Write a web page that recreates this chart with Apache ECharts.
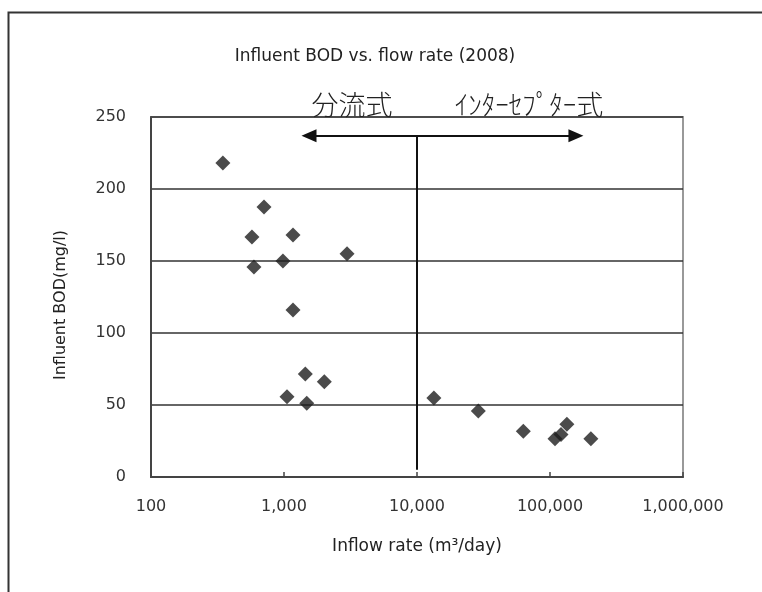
<!DOCTYPE html>
<html>
<head>
<meta charset="utf-8">
<script src="https://cdn.jsdelivr.net/npm/echarts@6/dist/echarts.min.js"></script>
<style>
html,body{margin:0;padding:0;background:#fff;}
#chart{width:762px;height:592px;}
</style>
</head>
<body>
<div id="chart"></div>
<script>
// Data
const inflowRate = [347, 707, 574, 1169, 982, 594, 2978, 1169, 1446, 2010, 1053, 1482,
                    13400, 28900, 63000, 109000, 121000, 134000, 203000];
const influentBOD = [218, 187.5, 166.7, 168, 150, 145.8, 155, 116, 71.5, 66.2, 55.8, 51.2,
                     54.9, 45.8, 31.7, 26.6, 29.6, 36.6, 26.6];
const xTickLabels = ['100', '1,000', '10,000', '100,000', '1,000,000'];
const yTicks = [0, 50, 100, 150, 200, 250];
const dividerX = 10000;
const dividerYRange = [5, 237];
const arrowXRange = [1541, 156700];
const arrowY = 237;
const titleText = 'Influent BOD vs. flow rate (2008)';
const xName = 'Inflow rate (m\u00B3/day)';
const yName = 'Influent BOD(mg/l)';
const leftLabel = '分流式';
const rightLabel = 'ｲﾝﾀｰｾﾌﾟﾀｰ式';

const points = inflowRate.map((x, i) => [x, influentBOD[i]]);
const labelMap = {};
[100, 1000, 10000, 100000, 1000000].forEach((v, i) => { labelMap[v] = xTickLabels[i]; });

const chart = echarts.init(document.getElementById('chart'), null, {renderer: 'canvas'});
const font = '"DejaVu Sans", sans-serif';
chart.setOption({
  backgroundColor: '#fff',
  animation: false,
  title: {
    text: titleText,
    left: 370, top: 43, textAlign: 'center',
    textStyle: {fontFamily: font, fontSize: 17, fontWeight: 'normal', color: '#222'}
  },
  grid: {
    left: 151, top: 117, width: 532, height: 360,
    containLabel: false, outerBoundsMode: 'none',
    show: true, borderColor: '#999', borderWidth: 2, backgroundColor: 'transparent'
  },
  xAxis: {
    type: 'log', logBase: 10, min: 100, max: 1000000,
    name: xName, nameLocation: 'middle', nameGap: 61,
    nameTextStyle: {fontFamily: font, fontSize: 17, color: '#222'},
    axisLine: {lineStyle: {color: '#444', width: 2}},
    axisTick: {show: true, inside: true, length: 5, lineStyle: {color: '#444', width: 1.5}},
    minorTick: {show: false},
    splitLine: {show: false},
    axisLabel: {
      margin: 22, fontFamily: font, fontSize: 16, color: '#333',
      formatter: v => labelMap[Math.round(v)] || ''
    }
  },
  yAxis: {
    type: 'value', min: yTicks[0], max: yTicks[yTicks.length - 1], interval: 50,
    name: yName, nameLocation: 'middle', nameGap: 82, nameRotate: 90,
    nameTextStyle: {fontFamily: font, fontSize: 16, color: '#222', padding: [0, 16, 0, 0]},
    axisLine: {show: true, lineStyle: {color: '#444', width: 2}},
    axisTick: {show: false},
    splitLine: {show: true, lineStyle: {color: '#333', width: 1.5}},
    axisLabel: {margin: 25, fontFamily: font, fontSize: 16, color: '#333'}
  },
  series: [
    {
      type: 'scatter',
      data: points,
      symbol: 'diamond',
      symbolSize: 15,
      itemStyle: {color: '#1e1e1e'},
      z: 5
    },
    {
      type: 'line',
      data: [],
      markLine: {
        silent: true,
        animation: false,
        label: {show: false},
        data: [
          [{coord: [dividerX, dividerYRange[0]], symbol: 'none'}, {coord: [dividerX, dividerYRange[1]], symbol: 'none'}],
          [{coord: [arrowXRange[0], arrowY], symbol: 'triangle', symbolSize: [13, 15]},
           {coord: [arrowXRange[1], arrowY], symbol: 'triangle', symbolSize: [13, 15]}]
        ],
        lineStyle: {color: '#111', width: 2, type: 'solid'}
      }
    }
  ],
  graphic: [
    {type: 'rect', left: 6, top: 10, shape: {width: 800, height: 640},
     style: {fill: 'none', stroke: '#333', lineWidth: 2}, z: -1, silent: true},
    {type: 'text', x: 352, y: 105,
     style: {text: leftLabel, fontFamily: '"Noto Sans CJK JP", sans-serif', fontSize: 27, fontWeight: 300,
             fill: '#222', align: 'center', verticalAlign: 'middle'}, z: 10},
    {type: 'text', x: 529, y: 105,
     style: {text: rightLabel, fontFamily: '"Noto Sans CJK JP", sans-serif', fontSize: 27, fontWeight: 300,
             fill: '#222', align: 'center', verticalAlign: 'middle'}, z: 10}
  ]
});
</script>
</body>
</html>
